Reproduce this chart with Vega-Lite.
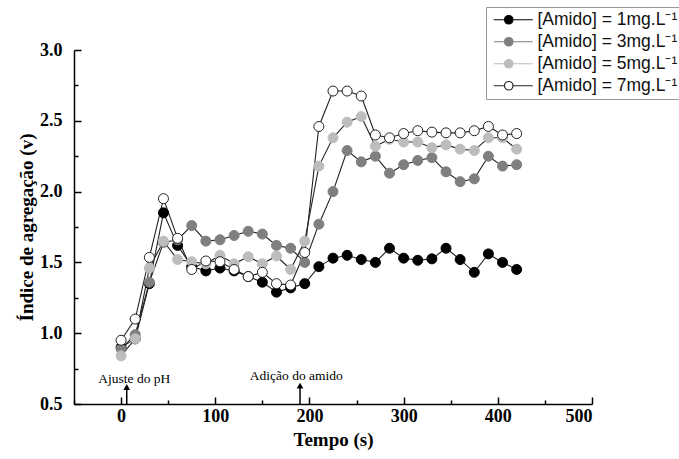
{
  "$schema": "https://vega.github.io/schema/vega-lite/v6.json",
  "width": 518,
  "height": 354,
  "autosize": {"type": "none"},
  "padding": {"left": 74, "top": 50, "right": 87, "bottom": 55},
  "background": "white",
  "config": {
    "view": {"stroke": null},
    "axis": {
      "grid": false,
      "domainColor": "black",
      "domainWidth": 1.5,
      "tickColor": "black",
      "tickWidth": 1.5,
      "labelFont": "Liberation Serif",
      "labelFontWeight": "bold",
      "labelFontSize": 18,
      "labelColor": "black",
      "titleFont": "Liberation Serif",
      "titleFontWeight": "bold",
      "titleFontSize": 19,
      "titleColor": "black"
    }
  },
  "datasets": {
    "series": [
      {"t":0,"c":1,"v":0.90},{"t":15,"c":1,"v":0.96},{"t":30,"c":1,"v":1.35},{"t":45,"c":1,"v":1.85},{"t":60,"c":1,"v":1.62},{"t":75,"c":1,"v":1.47},{"t":90,"c":1,"v":1.44},{"t":105,"c":1,"v":1.46},{"t":120,"c":1,"v":1.44},{"t":135,"c":1,"v":1.40},{"t":150,"c":1,"v":1.36},{"t":165,"c":1,"v":1.29},{"t":180,"c":1,"v":1.32},{"t":195,"c":1,"v":1.35},{"t":210,"c":1,"v":1.47},{"t":225,"c":1,"v":1.53},{"t":240,"c":1,"v":1.55},{"t":255,"c":1,"v":1.52},{"t":270,"c":1,"v":1.50},{"t":285,"c":1,"v":1.60},{"t":300,"c":1,"v":1.53},{"t":315,"c":1,"v":1.515},{"t":330,"c":1,"v":1.525},{"t":345,"c":1,"v":1.60},{"t":360,"c":1,"v":1.52},{"t":375,"c":1,"v":1.43},{"t":390,"c":1,"v":1.56},{"t":405,"c":1,"v":1.50},{"t":420,"c":1,"v":1.45},
      {"t":0,"c":3,"v":0.89},{"t":15,"c":3,"v":0.99},{"t":30,"c":3,"v":1.36},{"t":45,"c":3,"v":1.64},{"t":60,"c":3,"v":1.66},{"t":75,"c":3,"v":1.76},{"t":90,"c":3,"v":1.65},{"t":105,"c":3,"v":1.66},{"t":120,"c":3,"v":1.69},{"t":135,"c":3,"v":1.72},{"t":150,"c":3,"v":1.70},{"t":165,"c":3,"v":1.62},{"t":180,"c":3,"v":1.60},{"t":195,"c":3,"v":1.50},{"t":210,"c":3,"v":1.77},{"t":225,"c":3,"v":2.00},{"t":240,"c":3,"v":2.29},{"t":255,"c":3,"v":2.21},{"t":270,"c":3,"v":2.25},{"t":285,"c":3,"v":2.13},{"t":300,"c":3,"v":2.19},{"t":315,"c":3,"v":2.22},{"t":330,"c":3,"v":2.24},{"t":345,"c":3,"v":2.14},{"t":360,"c":3,"v":2.07},{"t":375,"c":3,"v":2.09},{"t":390,"c":3,"v":2.25},{"t":405,"c":3,"v":2.18},{"t":420,"c":3,"v":2.19},
      {"t":0,"c":5,"v":0.84},{"t":15,"c":5,"v":0.96},{"t":30,"c":5,"v":1.46},{"t":45,"c":5,"v":1.65},{"t":60,"c":5,"v":1.52},{"t":75,"c":5,"v":1.505},{"t":90,"c":5,"v":1.49},{"t":105,"c":5,"v":1.55},{"t":120,"c":5,"v":1.49},{"t":135,"c":5,"v":1.54},{"t":150,"c":5,"v":1.49},{"t":165,"c":5,"v":1.545},{"t":180,"c":5,"v":1.45},{"t":195,"c":5,"v":1.65},{"t":210,"c":5,"v":2.18},{"t":225,"c":5,"v":2.38},{"t":240,"c":5,"v":2.49},{"t":255,"c":5,"v":2.53},{"t":270,"c":5,"v":2.32},{"t":285,"c":5,"v":2.37},{"t":300,"c":5,"v":2.35},{"t":315,"c":5,"v":2.35},{"t":330,"c":5,"v":2.31},{"t":345,"c":5,"v":2.33},{"t":360,"c":5,"v":2.30},{"t":375,"c":5,"v":2.29},{"t":390,"c":5,"v":2.38},{"t":405,"c":5,"v":2.38},{"t":420,"c":5,"v":2.30},
      {"t":0,"c":7,"v":0.95},{"t":15,"c":7,"v":1.10},{"t":30,"c":7,"v":1.535},{"t":45,"c":7,"v":1.95},{"t":60,"c":7,"v":1.67},{"t":75,"c":7,"v":1.45},{"t":90,"c":7,"v":1.51},{"t":105,"c":7,"v":1.505},{"t":120,"c":7,"v":1.45},{"t":135,"c":7,"v":1.40},{"t":150,"c":7,"v":1.43},{"t":165,"c":7,"v":1.35},{"t":180,"c":7,"v":1.34},{"t":195,"c":7,"v":1.57},{"t":210,"c":7,"v":2.46},{"t":225,"c":7,"v":2.71},{"t":240,"c":7,"v":2.71},{"t":255,"c":7,"v":2.675},{"t":270,"c":7,"v":2.40},{"t":285,"c":7,"v":2.38},{"t":300,"c":7,"v":2.41},{"t":315,"c":7,"v":2.43},{"t":330,"c":7,"v":2.42},{"t":345,"c":7,"v":2.415},{"t":360,"c":7,"v":2.415},{"t":375,"c":7,"v":2.43},{"t":390,"c":7,"v":2.46},{"t":405,"c":7,"v":2.40},{"t":420,"c":7,"v":2.41}
    ],
    "notes": [
      {"t": 14, "v": 0.675, "label": "Ajuste do pH", "at": 6, "y0": 0.5, "y1": 0.62},
      {"t": 186, "v": 0.695, "label": "Adição do amido", "at": 190, "y0": 0.5, "y1": 0.63}
    ]
  },
  "encoding": {
    "x": {
      "field": "t", "type": "quantitative",
      "scale": {"domain": [-50, 500], "nice": false, "zero": false},
      "axis": {
        "title": "Tempo (s)",
        "values": [-50, 0, 50, 100, 150, 200, 250, 300, 350, 400, 450, 500],
        "labelExpr": "datum.value % 100 === 0 ? datum.label : ''",
        "tickSize": {"condition": {"test": "datum.value % 100 === 0", "value": -7}, "value": -4},
        "labelPadding": 10,
        "titlePadding": 5
      }
    },
    "y": {
      "field": "v", "type": "quantitative",
      "scale": {"domain": [0.5, 3.0], "nice": false, "zero": false},
      "axis": {
        "title": "Índice de agregação (v)",
        "values": [0.5, 0.75, 1.0, 1.25, 1.5, 1.75, 2.0, 2.25, 2.5, 2.75, 3.0],
        "labelExpr": "(datum.value * 2) % 1 === 0 ? format(datum.value, '.1f') : ''",
        "tickSize": {"condition": {"test": "(datum.value * 2) % 1 === 0", "value": -7}, "value": -4},
        "labelPadding": 19,
        "titlePadding": 3
      }
    }
  },
  "layer": [
    {
      "data": {"name": "series"},
      "mark": {"type": "line", "color": "#222222", "strokeWidth": 1.1},
      "encoding": {"detail": {"field": "c", "type": "nominal"}}
    },
    {
      "data": {"name": "series"},
      "mark": {"type": "point", "filled": false, "size": 100, "strokeWidth": 1, "opacity": 1},
      "encoding": {
        "fill": {
          "field": "c", "type": "nominal",
          "scale": {"domain": [1, 3, 5, 7], "range": ["#000000", "#7f7f7f", "#bdbdbd", "#ffffff"]},
          "legend": {
            "title": null,
            "orient": "none",
            "legendX": 412,
            "legendY": -43,
            "direction": "vertical",
            "strokeColor": "#999999",
            "fillColor": "white",
            "padding": 4,
            "rowPadding": 3,
            "symbolType": "M-1,0H1.15M2.85,0H6.8M1.15,0A0.85,0.85 0 1,0 2.85,0A0.85,0.85 0 1,0 1.15,0",
            "symbolSize": 100,
            "symbolStrokeColor": "#444444",
            "symbolStrokeWidth": 1.2,
            "symbolOpacity": 1,
            "labelOffset": 30,
            "labelFont": "Liberation Sans",
            "labelFontSize": 17.5,
            "labelColor": "#111111",
            "labelLimit": 300,
            "labelExpr": "'[Amido] = ' + datum.label + 'mg.L⁻¹'"
          }
        },
        "stroke": {
          "field": "c", "type": "nominal",
          "scale": {"domain": [1, 3, 5, 7], "range": ["#000000", "#7f7f7f", "#bdbdbd", "#222222"]},
          "legend": null
        }
      }
    },
    {
      "data": {"name": "notes"},
      "mark": {"type": "text", "font": "Liberation Serif", "fontSize": 13.5, "align": "center", "baseline": "middle", "color": "black"},
      "encoding": {"text": {"field": "label"}}
    },
    {
      "data": {"name": "notes"},
      "mark": {"type": "rule", "color": "black", "strokeWidth": 1.5},
      "encoding": {
        "x": {"field": "at", "type": "quantitative"},
        "y": {"field": "y0", "type": "quantitative"},
        "y2": {"field": "y1"}
      }
    },
    {
      "data": {"name": "notes"},
      "mark": {"type": "point", "shape": "triangle-up", "filled": true, "color": "black", "size": 45, "opacity": 1},
      "encoding": {
        "x": {"field": "at", "type": "quantitative"},
        "y": {"field": "y1", "type": "quantitative"}
      }
    }
  ]
}
